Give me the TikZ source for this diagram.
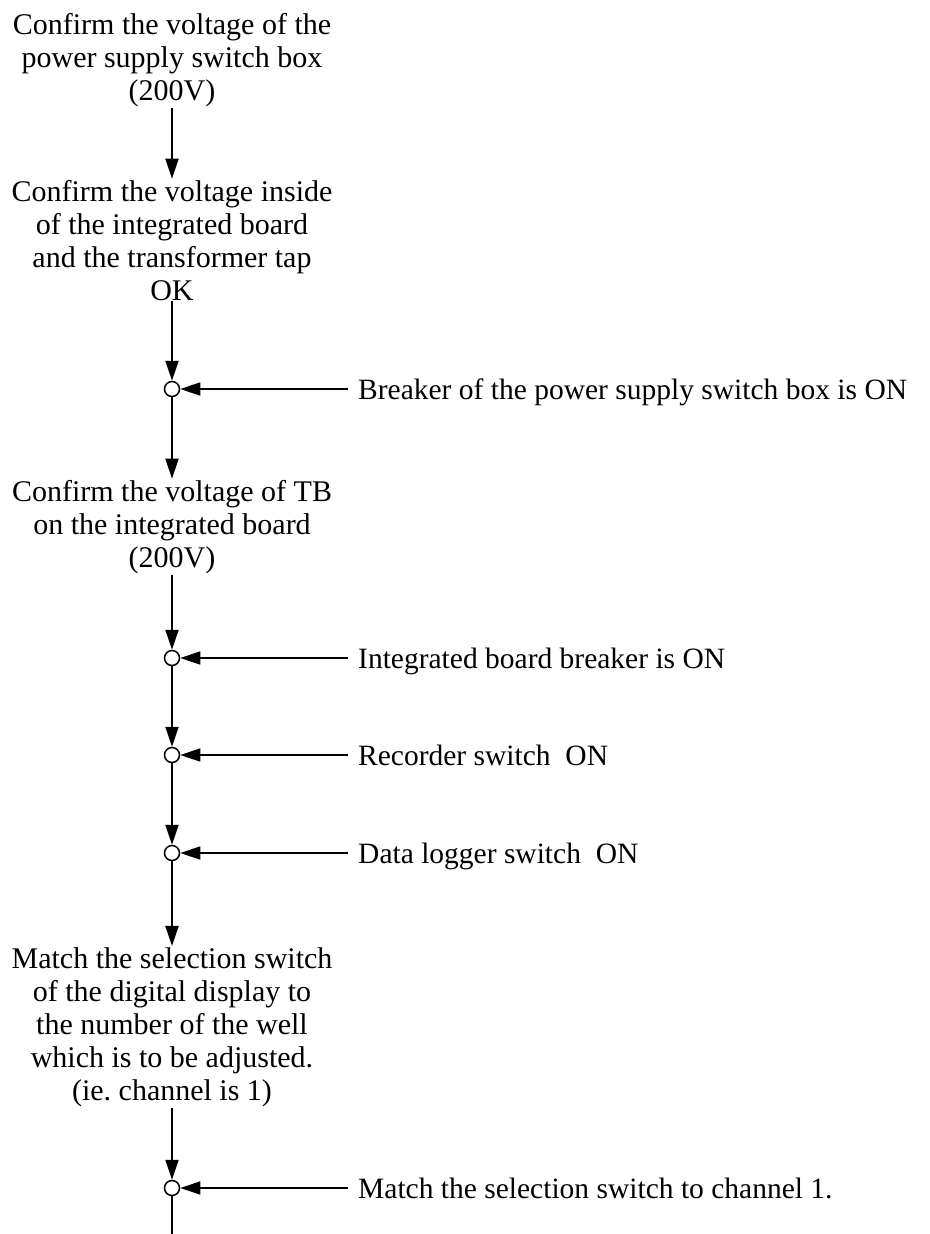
\documentclass[tikz,border=0pt]{standalone}
\usepackage{fontspec}
\setmainfont{Liberation Serif}
\usetikzlibrary{arrows.meta}
\tikzset{
  txt/.style={font=\fontsize{30}{33}\selectfont, align=center, inner sep=1pt, anchor=base},
  lab/.style={font=\fontsize{29.5}{33}\selectfont, anchor=west, inner xsep=10pt, inner ysep=0pt, text height=20pt, text depth=0pt},
  junc/.style={circle, draw, fill=white, line width=1.5pt, minimum size=15pt, inner sep=0pt},
  vflow/.style={line width=2pt, -{Triangle[length=20pt,width=13pt]}},
  hflow/.style={line width=1.5pt, -{Triangle[length=20pt,width=13pt]}},
  vline/.style={line width=2pt}
}
\begin{document}
\begin{tikzpicture}[x=1pt,y=-1pt]
\fill[white] (0,0) rectangle (929,1234);
\useasboundingbox (0,0) rectangle (929,1234);
\node[txt] (t1) at (172,100) {Confirm the voltage of the\\power supply switch box\\(200V)};
\node[txt] (t2) at (172,300) {Confirm the voltage inside\\of the integrated board\\and the transformer tap\\OK};
\node[junc] (c1) at (172,389) {};
\node[lab] (l1) at (348,389) {Breaker of the power supply switch box is ON};
\node[txt] (t3) at (172,567) {Confirm the voltage of TB\\on the integrated board\\(200V)};
\node[junc] (c2) at (172,658) {};
\node[lab] (l2) at (348,658) {Integrated board breaker is ON};
\node[junc] (c3) at (172,755) {};
\node[lab] (l3) at (348,755) {Recorder switch\ \ ON};
\node[junc] (c4) at (172,853) {};
\node[lab] (l4) at (348,853) {Data logger switch\ \ ON};
\node[txt] (t4) at (172,1100) {Match the selection switch\\of the digital display to\\the number of the well\\which is to be adjusted.\\(ie.\ channel is 1)};
\node[junc] (c5) at (172,1188) {};
\node[lab] (l5) at (348,1188) {Match the selection switch to channel 1.};
\coordinate (end) at (172,1234);

\draw[vflow] (t1) -- (t2);
\draw[vflow] (t2) -- (c1);
\draw[vflow] (c1) -- (t3);
\draw[vflow] (t3) -- (c2);
\draw[vflow] (c2) -- (c3);
\draw[vflow] (c3) -- (c4);
\draw[vflow] (c4) -- (t4);
\draw[vflow] (t4) -- (c5);
\draw[vline] (c5) -- (end);
\draw[hflow] (l1) -- (c1);
\draw[hflow] (l2) -- (c2);
\draw[hflow] (l3) -- (c3);
\draw[hflow] (l4) -- (c4);
\draw[hflow] (l5) -- (c5);
\end{tikzpicture}
\end{document}
